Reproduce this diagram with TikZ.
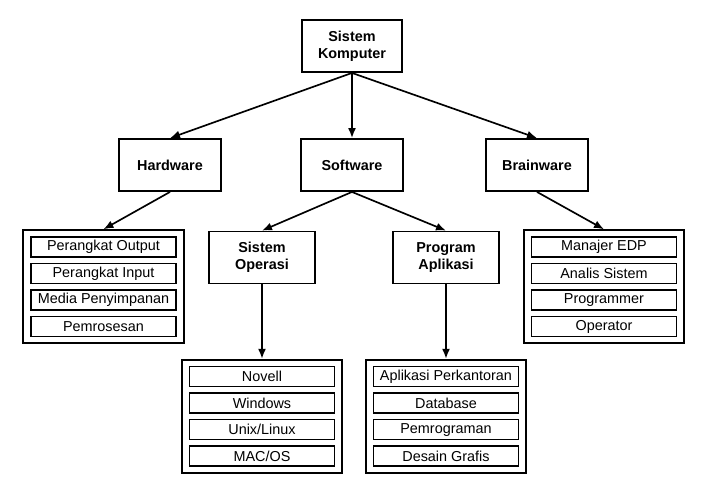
\documentclass[tikz,border=0pt]{standalone}
\usepackage{fontspec}
\setmainfont{Liberation Sans}
\usetikzlibrary{arrows.meta,positioning,fit}
\tikzstyle{unit}=[draw, fill=white, line width=1.4pt, align=center, font=\fontsize{10.8}{13}\selectfont\bfseries, minimum height=39pt, inner sep=2pt]
\tikzstyle{item}=[draw, line width=1.2pt, font=\fontsize{10.8}{13}\selectfont, minimum width=108.75pt, minimum height=15pt, inner sep=1pt]
\tikzstyle{group}=[draw, line width=1.4pt, inner xsep=5.25pt, inner ysep=4.5pt]

\begin{document}
\begin{tikzpicture}[node distance=19.9pt,>={Latex[length=7.5pt,width=6pt]},line width=1.25pt]
		    \useasboundingbox (-264pt,34.5pt) rectangle (263.25pt,-336pt);
		    \node [unit, minimum width=75pt] (sk) {Sistem\\Komputer};
		    \node [unit, minimum width=77pt] (sw) [below of=sk,node distance=89.25pt] {Software};
		    \node [unit, minimum width=77pt] (hw) [left of=sw,node distance=136.5pt] {Hardware};
		    \node [unit, minimum width=77pt] (bw) [right of=sw,node distance=138.75pt] {Brainware};
		    \node [unit, minimum width=79pt] (so) [on grid, below left=69.4pt and 67.5pt of sw] {Sistem\\Operasi};
		    \node [unit, minimum width=79pt] (pa) [right of=so,node distance=138pt] {Program\\Aplikasi};
		    % hardware
		    \node [item] (hw1) [on grid, below left=61.5pt and 49.9pt of hw] {Perangkat Output};
		    \node [item] (hw2) [below of=hw1] {Perangkat Input};
		    \node [item] (hw3) [below of=hw2] {Media Penyimpanan};
		    \node [item] (hw4) [below of=hw3] {Pemrosesan};
		    \node [group, fit=(hw1)(hw4)] (hwbox) {};
		    % brainware
		    \node [item] (bw1) [on grid, below right=61.5pt and 50.25pt of bw] {Manajer EDP};
		    \node [item] (bw2) [below of=bw1] {Analis Sistem};
		    \node [item] (bw3) [below of=bw2] {Programmer};
		    \node [item] (bw4) [below of=bw3] {Operator};
		    \node [group, fit=(bw1)(bw4)] (bwbox) {};
		    % sistem operasi
		    \node [item] (os1) [below of=so,node distance=89.25pt] {Novell};
		    \node [item] (os2) [below of=os1] {Windows};
		    \node [item] (os3) [below of=os2] {Unix/Linux};
		    \node [item] (os4) [below of=os3] {MAC/OS};
		    \node [group, fit=(os1)(os4)] (osbox) {};
		    % program aplikasi
		    \node [item] (pa1) [below of=pa,node distance=89.25pt] {Aplikasi Perkantoran};
		    \node [item] (pa2) [below of=pa1] {Database};
		    \node [item] (pa3) [below of=pa2] {Pemrograman};
		    \node [item] (pa4) [below of=pa3] {Desain Grafis};
		    \node [group, fit=(pa1)(pa4)] (pabox) {};
		    \path[->]
		    (sk.south) edge (hw.north)
		    (sk.south) edge (sw.north)
		    (sk.south) edge (bw.north)
		    (hw.south) edge (hwbox.north)
		    (sw.south) edge (so.north)
		    (sw.south) edge (pa.north)
		    (bw.south) edge (bwbox.north)
		    (so.south) edge (osbox.north)
		    (pa.south) edge (pabox.north);
		\end{tikzpicture}
\end{document}
